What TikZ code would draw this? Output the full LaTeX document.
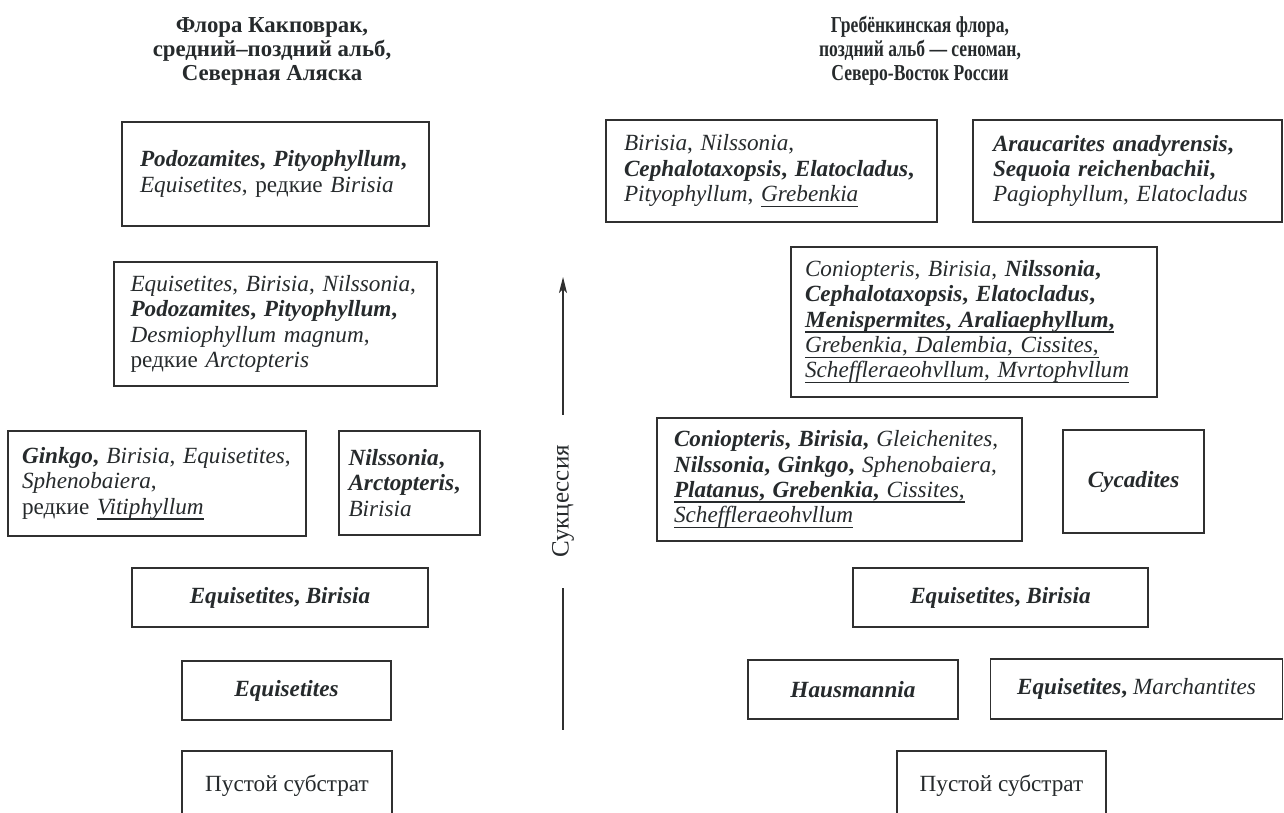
\documentclass[tikz,border=0pt]{standalone}
\usepackage{fontspec}
\setmainfont{Liberation Serif}
\newfontfamily\narrowserif[FakeStretch=0.77]{Liberation Serif}
\usepackage{xcolor}
\usetikzlibrary{arrows.meta, positioning}
\definecolor{ink}{HTML}{262A2C}
\definecolor{frame}{HTML}{303030}
\newcommand\bi[1]{\textbf{\textit{#1}}}
\newcommand\undl[1]{\leavevmode\setbox0=\hbox{#1}\rlap{\rule[-2.8pt]{\wd0}{0.8pt}}\box0}

\begin{document}
\begin{tikzpicture}[
  x=0.5pt, y=-0.5pt,
  taxa/.style={draw=frame, line width=0.65pt, align=left, text=ink, font=\fontsize{11.6pt}{12.65pt}\selectfont, inner ysep=0pt},
  taxc/.style={draw=frame, line width=0.65pt, align=center, text=ink, font=\fontsize{11.6pt}{12.65pt}\selectfont, inner sep=0pt},
  ttl/.style={align=center, text=ink, font=\fontsize{11.4pt}{12pt}\selectfont\bfseries},
  lbl/.style={text=ink, font=\fontsize{12.5pt}{14pt}\selectfont, rotate=90},
  arr/.style={-{Stealth[length=8pt, width=4pt, inset=2pt]}, frame, line width=0.6pt}
]
\clip (0,0) rectangle (1284,813);

% Titles
\node[ttl] (kakT) at (272,51) {Флора Какповрак,\\средний–поздний альб,\\Северная Аляска};
\node[ttl, font=\fontsize{11.4pt}{12pt}\selectfont\narrowserif\bfseries] (grbT) at (920,51) {Гребёнкинская флора,\\поздний альб — сеноман,\\Северо-Восток России};

% Left column: Kakpovrak flora
\node[taxa, text width=135.5pt, inner xsep=9pt, minimum height=52pt] (kak6) at (275.5,174)
  {\bi{Podozamites}\textbf{,} \bi{Pityophyllum}\textbf{,}\\ \textit{Equisetites}, редкие \textit{Birisia}};
\node[taxa, text width=145pt, inner xsep=8.25pt, minimum height=62pt] (kak5) at (275.5,324)
  {\textit{Equisetites}, \textit{Birisia}, \textit{Nilssonia},\\ \bi{Podozamites}\textbf{,} \bi{Pityophyllum}\textbf{,}\\ \textit{Desmiophyllum magnum},\\ редкие \textit{Arctopteris}};
\node[taxa, text width=135pt, inner xsep=7pt, minimum height=52.5pt] (kak4a) at (157,483.5)
  {\bi{Ginkgo}\textbf{,} \textit{Birisia}, \textit{Equisetites},\\ \textit{Sphenobaiera},\\ редкие \undl{\textit{Vitiphyllum}}};
\node[taxa, text width=61pt, inner xsep=4.75pt, minimum height=52pt] (kak4b) at (409.5,483)
  {\bi{Nilssonia}\textbf{,}\\ \bi{Arctopteris}\textbf{,}\\ \textit{Birisia}};
\node[taxc, minimum width=148pt, minimum height=29.5pt] (kak3) at (280,597.5)
  {\bi{Equisetites}\textbf{,} \bi{Birisia}};
\node[taxc, minimum width=104.5pt, minimum height=29.5pt] (kak2) at (286.5,690.5)
  {\bi{Equisetites}};
\node[taxc, minimum width=105pt, minimum height=35pt] (kak1) at (287,786)
  {Пустой субстрат};

% Succession arrow
\node[lbl, minimum width=86.5pt, inner sep=0pt] (succ) at (563,501.5) {Сукцессия};
\coordinate (succTop) at (563,277);
\coordinate (succFoot) at (563,730);
\draw[arr] (succ.east) -- (succTop);
\draw[frame, line width=0.6pt] (succ.west) -- (succFoot);

% Right column: Grebenkinskaya flora
\node[taxa, text width=147.5pt, inner xsep=9pt, minimum height=51pt] (grb6a) at (771.5,171)
  {\textit{Birisia}, \textit{Nilssonia},\\ \bi{Cephalotaxopsis}\textbf{,} \bi{Elatocladus}\textbf{,}\\ \textit{Pityophyllum}, \undl{\textit{Grebenkia}}};
\node[taxa, text width=134.5pt, inner xsep=10pt, minimum height=51pt] (grb6b) at (1127.5,171)
  {\bi{Araucarites anadyrensis}\textbf{,}\\ \bi{Sequoia reichenbachii}\textbf{,}\\ \textit{Pagiophyllum}, \textit{Elatocladus}};
\node[taxa, text width=169pt, inner xsep=7pt, minimum height=75pt] (grb5) at (974,322)
  {\textit{Coniopteris}, \textit{Birisia}, \bi{Nilssonia}\textbf{,}\\ \bi{Cephalotaxopsis}\textbf{,} \bi{Elatocladus}\textbf{,}\\ \undl{\bi{Menispermites}\textbf{,} \bi{Araliaephyllum}\textbf{,}}\\ \undl{\textit{Grebenkia}, \textit{Dalembia}, \textit{Cissites},}\\ \undl{\textit{Scheffleraeohvllum}, \textit{Mvrtophvllum}}};
\node[taxa, text width=165.5pt, inner xsep=8.5pt, minimum height=61.5pt] (grb4a) at (839.5,479.5)
  {\bi{Coniopteris}\textbf{,} \bi{Birisia}\textbf{,} \textit{Gleichenites},\\ \bi{Nilssonia}\textbf{,} \bi{Ginkgo}\textbf{,} \textit{Sphenobaiera},\\ \undl{\bi{Platanus}\textbf{,} \bi{Grebenkia}\textbf{,} \textit{Cissites},}\\ \undl{\textit{Scheffleraeohvllum}}};
\node[taxc, minimum width=70.5pt, minimum height=51.5pt] (grb4b) at (1133.5,481.5)
  {\bi{Cycadites}};
\node[taxc, minimum width=147.5pt, minimum height=29.5pt] (grb3) at (1000.5,597.5)
  {\bi{Equisetites}\textbf{,} \bi{Birisia}};
\node[taxc, minimum width=105pt, minimum height=29.5pt] (grb2a) at (853,689.5)
  {\bi{Hausmannia}};
\node[taxc, minimum width=146pt, minimum height=30pt] (grb2b) at (1136.5,689)
  {\bi{Equisetites}\textbf{,} \textit{Marchantites}};
\node[taxc, minimum width=104.5pt, minimum height=35pt] (grb1) at (1001.5,786)
  {Пустой субстрат};

\end{tikzpicture}
\end{document}
